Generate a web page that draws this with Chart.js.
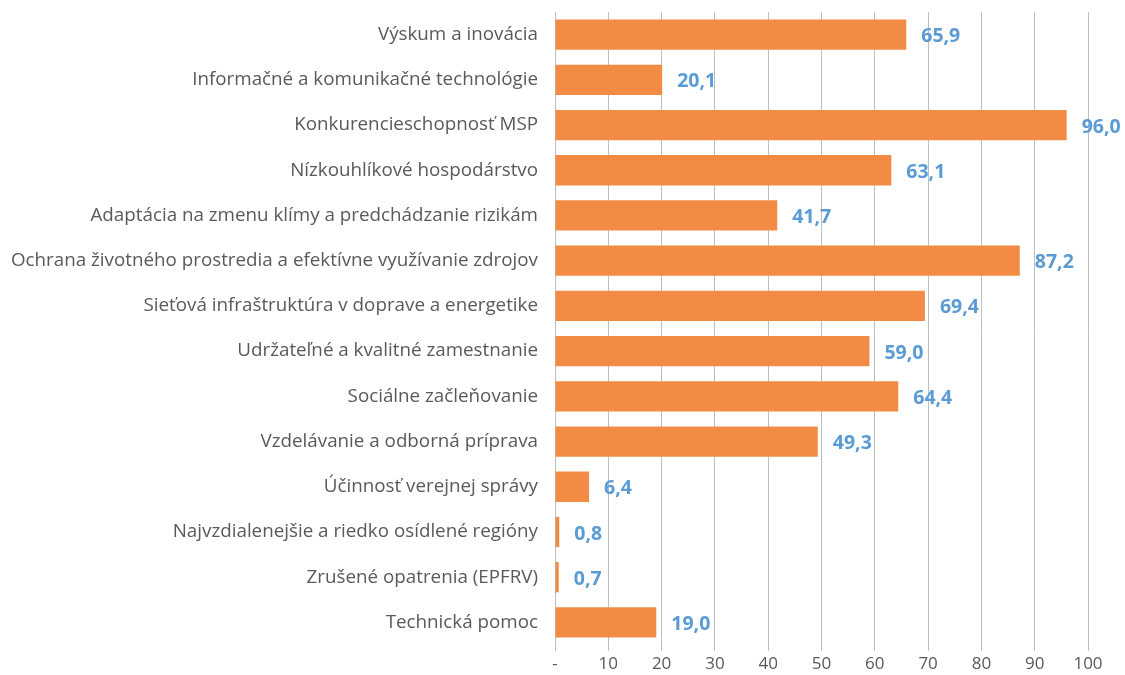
<!DOCTYPE html>
<html lang="sk">
  <head>
    <meta charset="UTF-8" />
    <title>Prioritné oblasti</title>
    <script src="https://cdn.jsdelivr.net/npm/chart.js"></script>
    <style>
      body {
        margin: 0;
        background: #ffffff;
      }
      .chart-wrapper {
        position: relative;
        width: 1125px;
        height: 675px;
      }
    </style>
  </head>
  <body>
    <div class="chart-wrapper">
      <canvas id="barChart"></canvas>
    </div>

    <script>
      const categories = [
        "Výskum a inovácia",
        "Informačné a komunikačné technológie",
        "Konkurencieschopnosť MSP",
        "Nízkouhlíkové hospodárstvo",
        "Adaptácia na zmenu klímy a predchádzanie rizikám",
        "Ochrana životného prostredia a efektívne využívanie zdrojov",
        "Sieťová infraštruktúra v doprave a energetike",
        "Udržateľné a kvalitné zamestnanie",
        "Sociálne začleňovanie",
        "Vzdelávanie a odborná príprava",
        "Účinnosť verejnej správy",
        "Najvzdialenejšie a riedko osídlené regióny",
        "Zrušené opatrenia (EPFRV)",
        "Technická pomoc",
      ];
      const values = [65.9, 20.1, 96.0, 63.1, 41.7, 87.2, 69.4, 59.0, 64.4, 49.3, 6.4, 0.8, 0.7, 19.0];
      const xTicks = [0, 10, 20, 30, 40, 50, 60, 70, 80, 90, 100];

      const fontFamily = "'Open Sans', 'Noto Sans', sans-serif";

      // hodnoty za koncom stĺpca
      const valueLabels = {
        id: "valueLabels",
        afterDatasetsDraw(chart) {
          const ctx = chart.ctx;
          const meta = chart.getDatasetMeta(0);
          ctx.save();
          ctx.font = "bold 19.5px " + fontFamily;
          ctx.fillStyle = "#5b9bd5";
          ctx.textAlign = "left";
          ctx.textBaseline = "middle";
          meta.data.forEach((bar, i) => {
            const txt = values[i].toFixed(1).replace(".", ",");
            ctx.fillText(txt, bar.x + 15, bar.y + 2);
          });
          ctx.restore();
        },
      };

      new Chart(document.getElementById("barChart"), {
        type: "bar",
        data: {
          labels: categories,
          datasets: [
            {
              data: values,
              backgroundColor: "#f28c45",
              barPercentage: 0.67,
              categoryPercentage: 1,
            },
          ],
        },
        options: {
          indexAxis: "y",
          responsive: true,
          maintainAspectRatio: false,
          animation: false,
          layout: { padding: { top: 12, right: 37, bottom: 0, left: 0 } },
          plugins: {
            legend: { display: false },
            tooltip: { enabled: false },
          },
          scales: {
            x: {
              min: 0,
              max: 100,
              afterBuildTicks: (scale) => {
                scale.ticks = xTicks.map((v) => ({ value: v }));
              },
              afterFit: (scale) => {
                scale.height = 30;
              },
              grid: { color: "#bfbfbf", lineWidth: 1, tickLength: 6 },
              border: { display: false },
              ticks: {
                padding: 3,
                color: "#595959",
                font: { family: fontFamily, size: 17 },
                callback: (v) => (v === 0 ? "-" : v),
              },
            },
            y: {
              afterFit: (scale) => {
                scale.width = 555;
                scale.paddingTop = 0;
                scale.paddingBottom = 0;
              },
              grid: { display: false },
              border: { display: false },
              ticks: {
                padding: 9,
                color: "#595959",
                font: { family: fontFamily, size: 18.8 },
              },
            },
          },
        },
        plugins: [valueLabels],
      });
    </script>
  </body>
</html>
